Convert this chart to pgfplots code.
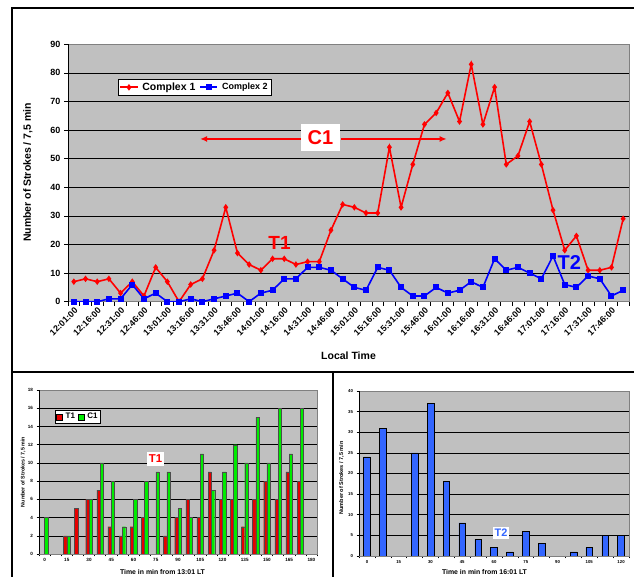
\documentclass[border=0pt]{standalone}
\usepackage{pgfplots}
\pgfplotsset{compat=1.18}
\usetikzlibrary{arrows.meta}
\usepackage{fontspec}
\setmainfont{Liberation Sans}
\definecolor{plotgray}{RGB}{192,192,192}
\definecolor{bordergray}{RGB}{128,128,128}
\definecolor{exred}{RGB}{255,0,0}
\definecolor{exblue}{RGB}{0,0,255}
\definecolor{barblue}{RGB}{51,102,255}
\definecolor{bargreen}{RGB}{0,235,0}
\definecolor{barred}{RGB}{230,0,0}
\newcommand{\fs}[1]{\fontsize{#1}{#1}\selectfont}
\begin{document}
\begin{tikzpicture}[x=1pt,y=1pt]
% frames
\draw[line width=1.8pt] (12,-5) -- (12,569) -- (645,569);
\draw[line width=1.8pt] (12,205) -- (645,205);
\draw[line width=1.8pt] (333,205) -- (333,-5);

% ---------------- top chart ----------------
\begin{axis}[
  at={(68pt,275.3pt)}, anchor=south west, scale only axis,
  width=561pt, height=257.4pt,
  xmin=-0.5, xmax=47.5, ymin=0, ymax=90,
  axis background/.style={fill=plotgray},
  axis line style={draw=bordergray},
  ytick={0,10,...,90}, ymajorgrids, grid style={black, line width=0.6pt},
  xtick={-0.5,0.5,...,47.5}, xticklabels={},
  extra x ticks={0,2,...,46},
  extra x tick labels={12:01:00,12:16:00,12:31:00,12:46:00,13:01:00,13:16:00,13:31:00,13:46:00,14:01:00,14:16:00,14:31:00,14:46:00,15:01:00,15:16:00,15:31:00,15:46:00,16:01:00,16:16:00,16:31:00,16:46:00,17:01:00,17:16:00,17:31:00,17:46:00},
  extra x tick style={major tick length=0pt, xticklabel style={rotate=45, anchor=east, font=\bfseries\fs{8.8}, xshift=-3pt, yshift=-7pt, inner sep=0.5pt}},
  tick align=outside, tick pos=left, major tick length=4pt,
  tick style={black, line width=0.6pt},
  /pgf/number format/assume math mode=true,
  yticklabel style={font=\bfseries\fs{9}},
  legend style={at={(0.089,0.865)}, anchor=north west, draw=black, fill=white,
    font=\bfseries\fs{10.5}, inner sep=1.5pt, row sep=0pt, column sep=2pt},
  legend columns=2,
]
\addplot[exred, line width=1.6pt, mark=diamond*, mark size=2pt, mark options={solid}] coordinates {
(0,7)(1,8)(2,7)(3,8)(4,3)(5,7)(6,2)(7,12)(8,7)(9,0)(10,6)(11,8)(12,18)(13,33)(14,17)(15,13)(16,11)(17,15)(18,15)(19,13)(20,14)(21,14)(22,25)(23,34)(24,33)(25,31)(26,31)(27,54)(28,33)(29,48)(30,62)(31,66)(32,73)(33,63)(34,83)(35,62)(36,75)(37,48)(38,51)(39,63)(40,48)(41,32)(42,18)(43,23)(44,11)(45,11)(46,12)(47,29)};
\addlegendentry{Complex 1}
\addplot[exblue, line width=1.6pt, mark=square*, mark size=2.2pt] coordinates {
(0,0)(1,0)(2,0)(3,1)(4,1)(5,6)(6,1)(7,3)(8,0)(9,0)(10,1)(11,0)(12,1)(13,2)(14,3)(15,0)(16,3)(17,4)(18,8)(19,8)(20,12)(21,12)(22,11)(23,8)(24,5)(25,4)(26,12)(27,11)(28,5)(29,2)(30,2)(31,5)(32,3)(33,4)(34,7)(35,5)(36,15)(37,11)(38,12)(39,10)(40,8)(41,16)(42,6)(43,5)(44,9)(45,8)(46,2)(47,4)};
\addlegendentry{\fs{9}Complex 2}
\draw[black, line width=0.8pt] (rel axis cs:0,0) -- (rel axis cs:0,1);
\draw[exred, line width=1.5pt, -{Latex[length=7pt,width=6pt]}] (axis cs:19.5,56.9) -- (axis cs:10.8,56.9);
\draw[exred, line width=1.5pt, -{Latex[length=7pt,width=6pt]}] (axis cs:22.9,56.9) -- (axis cs:31.9,56.9);
\node[fill=white, text=exred, font=\bfseries\fs{20}, inner sep=0pt, minimum width=39pt, minimum height=27pt] at (axis cs:21.1,57.4) {C1};
\node[text=exred, font=\bfseries\fs{19}] at (axis cs:17.6,20.5) {T1};
\node[text=exblue, font=\bfseries\fs{20}] at (axis cs:42.4,13.6) {T2};
\end{axis}
\node[rotate=90, font=\bfseries\fs{10.5}] at (28,404.5) {Number of Strokes / 7,5 min};
\node[font=\bfseries\fs{10.5}] at (348.5,221) {Local Time};

% ---------------- bottom left ----------------
\begin{axis}[
  at={(39pt,23pt)}, anchor=south west, scale only axis,
  width=278pt, height=164pt,
  xmin=-0.5, xmax=24.5, ymin=0, ymax=18,
  ybar=0pt, bar width=3.3pt,
  axis background/.style={fill=plotgray},
  axis line style={draw=bordergray},
  ytick={0,2,...,18}, ymajorgrids, grid style={black, line width=0.5pt},
  xtick={-0.5,0.5,...,24.5}, xticklabels={},
  extra x ticks={0,2,...,24},
  extra x tick labels={0,15,30,45,60,75,90,105,120,135,150,165,180},
  extra x tick style={major tick length=0pt, xticklabel style={font=\bfseries\fs{4.6}, yshift=-1pt}},
  tick align=outside, tick pos=left, major tick length=2.5pt,
  tick style={black, line width=0.5pt},
  /pgf/number format/assume math mode=true,
  yticklabel style={font=\bfseries\fs{4.6}},
  legend style={at={(0.058,0.878)}, anchor=north west, draw=black, fill=white,
    font=\bfseries\fs{8}, inner sep=1pt, row sep=0pt, column sep=1pt},
  legend columns=2,
  legend image code/.code={\draw[#1, draw=black] (0pt,-3pt) rectangle (6pt,3pt);},
]
\addplot[fill=barred, draw=black!70, line width=0.3pt] coordinates {
(2,2)(3,5)(4,6)(5,7)(6,3)(7,2)(8,3)(9,4)(11,2)(12,4)(13,6)(14,4)(15,9)(16,6)(17,6)(18,3)(19,6)(20,8)(21,6)(22,9)(23,8)};
\addlegendentry{T1}
\addplot[fill=bargreen, draw=black!70, line width=0.3pt] coordinates {
(0,4)(2,2)(4,6)(5,10)(6,8)(7,3)(8,6)(9,8)(10,9)(11,9)(12,5)(13,4)(14,11)(15,7)(16,9)(17,12)(18,10)(19,15)(20,10)(21,16)(22,11)(23,16)};
\addlegendentry{C1}
\draw[black, line width=0.6pt] (rel axis cs:0,0) -- (rel axis cs:0,1);
\end{axis}
\node[fill=white, text=exred, font=\bfseries\fs{11.4}, inner sep=0pt, minimum width=17.7pt, minimum height=13.3pt] at (155.5,118) {T1};
\node[rotate=90, font=\bfseries\fs{5.3}] at (23,105) {Number of Strokes / 7,5 min};
\node[font=\bfseries\fs{6.9}] at (162.5,5.3) {Time in min from 13:01 LT};

% ---------------- bottom right ----------------
\begin{axis}[
  at={(359pt,21pt)}, anchor=south west, scale only axis,
  width=270pt, height=165pt,
  xmin=-0.5, xmax=16.5, ymin=0, ymax=40,
  ybar=0pt, bar width=6.7pt,
  axis background/.style={fill=plotgray},
  axis line style={draw=bordergray},
  ytick={0,5,...,40}, ymajorgrids, grid style={black, line width=0.5pt},
  xtick={-0.5,0.5,...,16.5}, xticklabels={},
  extra x ticks={0,2,...,16},
  extra x tick labels={0,15,30,45,60,75,90,105,120},
  extra x tick style={major tick length=0pt, xticklabel style={font=\bfseries\fs{4.3}, yshift=-1pt}},
  tick align=outside, tick pos=left, major tick length=2.5pt,
  tick style={black, line width=0.5pt},
  /pgf/number format/assume math mode=true,
  yticklabel style={font=\bfseries\fs{4.3}},
]
\addplot[fill=barblue, draw=black, line width=0.5pt] coordinates {
(0,24)(1,31)(3,25)(4,37)(5,18)(6,8)(7,4)(8,2)(9,1)(10,6)(11,3)(13,1)(14,2)(15,5)(16,5)};
\draw[black, line width=0.6pt] (rel axis cs:0,0) -- (rel axis cs:0,1);
\end{axis}
\node[fill=white, text=barblue, font=\bfseries\fs{10.9}, inner sep=0pt, minimum width=16.7pt, minimum height=12.3pt] at (501,44) {T2};
\node[rotate=90, font=\bfseries\fs{5.5}] at (341.5,99) {Number of Strokes / 7,5 min};
\node[font=\bfseries\fs{6.9}] at (484.5,5) {Time in min from 16:01 LT};

\pgfresetboundingbox
\useasboundingbox (0,0) rectangle (634,577);
\end{tikzpicture}
\end{document}
